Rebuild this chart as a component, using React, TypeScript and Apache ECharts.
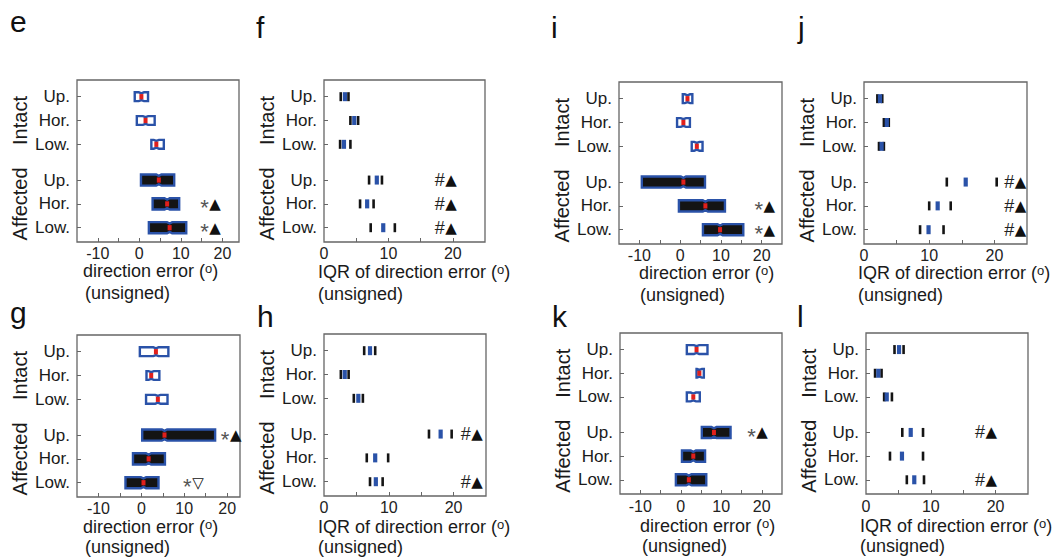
import React, { useEffect, useRef } from 'react';
import * as echarts from 'echarts';

// ---------- shared category / tick data ----------
const rowNames = ['Up.', 'Hor.', 'Low.', 'Up.', 'Hor.', 'Low.'];
const rowPos = [1, 2, 3, 4.5, 5.5, 6.5];
const rowGroup = [0, 0, 0, 1, 1, 1];
const groupNames = ['Intact', 'Affected'];
const groupPos = [2, 5.5];
const dirLabels = [-10, 0, 10, 20];
const dirTicks = [-10, -5, 0, 5, 10, 15, 20];
const iqrLabels = [0, 10, 20];
const iqrTicks = [5, 10, 15, 20];

// ---------- panel e (direction error, boxes) ----------
const eQ1 = [-1.1, -0.6, 2.9, 0.4, 3.2, 2.3];
const eMed = [0.5, 1.5, 4.1, 4.7, 6.7, 7.3];
const eQ3 = [2.1, 3.7, 5.9, 8.4, 9.6, 11.3];
const eAnnRow = [4, 5];
const eAnnX = [16.5, 16.5];
const eAnnText = ['*▲', '*▲'];

// ---------- panel f (IQR) ----------
const fLow = [2.6, 4.1, 2.5, 7.0, 5.6, 7.25];
const fVal = [3.25, 4.7, 3.1, 8.2, 6.7, 9.2];
const fHigh = [3.8, 5.3, 4.1, 9.0, 7.7, 11.0];
const fAnnRow = [3, 4, 5];
const fAnnX = [18.6, 18.6, 18.6];
const fAnnText = ['#▲', '#▲', '#▲'];

// ---------- panel i ----------
const iQ1 = [0.65, -0.75, 2.85, -9.4, -0.3, 5.6];
const iMed = [1.8, 0.8, 4.1, 0.8, 6.2, 9.8];
const iQ3 = [3.0, 2.4, 5.5, 6.1, 11.0, 15.5];
const iAnnRow = [4, 5];
const iAnnX = [20.1, 20.1];
const iAnnText = ['*▲', '*▲'];

// ---------- panel j ----------
const jLow = [2.05, 3.05, 2.3, 12.7, 10.0, 8.6];
const jVal = [2.45, 3.5, 2.7, 15.6, 11.3, 9.9];
const jHigh = [2.8, 3.8, 3.05, 20.35, 13.3, 12.2];
const jAnnRow = [3, 4, 5];
const jAnnX = [22.9, 22.9, 22.9];
const jAnnText = ['#▲', '#▲', '#▲'];

// ---------- panel g ----------
const gQ1 = [-0.35, 1.2, 1.1, 0.2, -1.95, -3.7];
const gMed = [3.4, 2.3, 3.85, 5.4, 1.7, 0.5];
const gQ3 = [6.3, 4.2, 6.1, 17.2, 5.5, 4.0];
const gAnnRow = [3, 5];
const gAnnX = [20.3, 11.5];
const gAnnText = ['*▲', '*▽'];

// ---------- panel h ----------
const hLow = [6.2, 2.6, 4.6, 16.2, 6.6, 7.1];
const hVal = [7.1, 3.2, 5.3, 18.0, 7.9, 8.0];
const hHigh = [7.9, 3.8, 6.0, 19.7, 9.9, 9.05];
const hAnnRow = [3, 5];
const hAnnX = [22.5, 22.5];
const hAnnText = ['#▲', '#▲'];

// ---------- panel k ----------
const kQ1 = [1.5, 3.9, 1.5, 5.2, 0.3, -1.2];
const kMed = [3.9, 4.6, 3.1, 8.2, 3.1, 2.0];
const kQ3 = [6.6, 5.7, 4.7, 12.3, 6.0, 6.3];
const kAnnRow = [3];
const kAnnX = [18.3];
const kAnnText = ['*▲'];

// ---------- panel l ----------
const lLow = [4.4, 1.4, 2.8, 5.6, 3.7, 6.3];
const lVal = [5.1, 1.9, 3.2, 6.9, 5.55, 7.45];
const lHigh = [5.8, 2.4, 4.0, 8.8, 8.8, 8.95];
const lAnnRow = [3, 5];
const lAnnX = [18.2, 18.2];
const lAnnText = ['#▲', '#▲'];

const FONT = 'Liberation Sans, Arial, sans-serif';
const BLUE = '#2a52a8';
const RED = '#e0201c';
const BLACK = '#141414';
const FRAME = '#666';

type Panel = {
  letter: string;
  kind: 'box' | 'iqr';
  grid: { left: number; top: number; width: number; height: number };
  xMin: number;
  xMax: number;
  a: number[];
  b: number[];
  c: number[];
  annRow: number[];
  annX: number[];
  annText: string[];
  labelMargin: number;
  letterPos: [number, number];
  titleY: number;
  titleX: number;
  unsignedY: number;
  unsignedX: number;
};

const panels: Panel[] = [
  { letter: 'e', kind: 'box', grid: { left: 77, top: 80, width: 162, height: 162 }, xMin: -15, xMax: 24,
    a: eQ1, b: eMed, c: eQ3, annRow: eAnnRow, annX: eAnnX, annText: eAnnText, labelMargin: 3,
    letterPos: [10, 21], titleX: 83, titleY: 271, unsignedX: 85, unsignedY: 293 },
  { letter: 'f', kind: 'iqr', grid: { left: 324, top: 80, width: 161, height: 162 }, xMin: 0, xMax: 25,
    a: fLow, b: fVal, c: fHigh, annRow: fAnnRow, annX: fAnnX, annText: fAnnText, labelMargin: 3,
    letterPos: [256, 27], titleX: 318, titleY: 272, unsignedX: 318, unsignedY: 294 },
  { letter: 'i', kind: 'box', grid: { left: 619, top: 82, width: 163, height: 162 }, xMin: -15, xMax: 25,
    a: iQ1, b: iMed, c: iQ3, annRow: iAnnRow, annX: iAnnX, annText: iAnnText, labelMargin: 3,
    letterPos: [551, 27], titleX: 639, titleY: 273, unsignedX: 640, unsignedY: 295 },
  { letter: 'j', kind: 'iqr', grid: { left: 864, top: 82, width: 163, height: 162 }, xMin: 0, xMax: 25,
    a: jLow, b: jVal, c: jHigh, annRow: jAnnRow, annX: jAnnX, annText: jAnnText, labelMargin: 3,
    letterPos: [798, 27], titleX: 858, titleY: 273, unsignedX: 858, unsignedY: 295 },
  { letter: 'g', kind: 'box', grid: { left: 77, top: 335, width: 163, height: 162 }, xMin: -15, xMax: 23,
    a: gQ1, b: gMed, c: gQ3, annRow: gAnnRow, annX: gAnnX, annText: gAnnText, labelMargin: 3,
    letterPos: [10, 312], titleX: 83, titleY: 527, unsignedX: 85, unsignedY: 547 },
  { letter: 'h', kind: 'iqr', grid: { left: 324, top: 334, width: 162, height: 162 }, xMin: 0, xMax: 25,
    a: hLow, b: hVal, c: hHigh, annRow: hAnnRow, annX: hAnnX, annText: hAnnText, labelMargin: 3,
    letterPos: [257, 316], titleX: 318, titleY: 527, unsignedX: 318, unsignedY: 547 },
  { letter: 'k', kind: 'box', grid: { left: 620, top: 333, width: 162, height: 161 }, xMin: -15, xMax: 25,
    a: kQ1, b: kMed, c: kQ3, annRow: kAnnRow, annX: kAnnX, annText: kAnnText, labelMargin: 4,
    letterPos: [552, 316], titleX: 640, titleY: 526, unsignedX: 642, unsignedY: 546 },
  { letter: 'l', kind: 'iqr', grid: { left: 866, top: 333, width: 162, height: 161 }, xMin: 0, xMax: 25,
    a: lLow, b: lVal, c: lHigh, annRow: lAnnRow, annX: lAnnX, annText: lAnnText, labelMargin: 4,
    letterPos: [797, 316], titleX: 860, titleY: 526, unsignedX: 860, unsignedY: 546 },
];

function boxRender(params: any, api: any) {
  const pos = api.value(0);
  const grp = api.value(4);
  const p1 = api.coord([api.value(1), pos]);
  const pm = api.coord([api.value(2), pos]);
  const p3 = api.coord([api.value(3), pos]);
  const y = pm[1];
  const hh = grp === 0 ? 4.4 : 5.6;
  const ind = grp === 0 ? 1 : 1.4;
  const nl = Math.max(p1[0] + 0.5, pm[0] - 2.6);
  const nr = Math.min(p3[0] - 0.5, pm[0] + 2.6);
  const pts = [
    [p1[0], y - hh], [nl, y - hh], [pm[0], y - hh + ind], [nr, y - hh], [p3[0], y - hh],
    [p3[0], y + hh], [nr, y + hh], [pm[0], y + hh - ind], [nl, y + hh], [p1[0], y + hh],
  ];
  return {
    type: 'group',
    children: [
      { type: 'polygon', shape: { points: pts }, style: { fill: grp === 0 ? '#fff' : BLACK, stroke: BLUE, lineWidth: 2.4, lineJoin: 'miter' } },
      { type: 'rect', shape: { x: pm[0] - 2, y: y - 2.6, width: 4, height: 5.2 }, style: { fill: RED } },
    ],
  };
}

function iqrRender(params: any, api: any) {
  const pos = api.value(0);
  const lo = api.coord([api.value(1), pos]);
  const v = api.coord([api.value(2), pos]);
  const hi = api.coord([api.value(3), pos]);
  const y = v[1];
  const h = 9;
  return {
    type: 'group',
    children: [
      { type: 'rect', shape: { x: lo[0] - 1.3, y: y - h / 2, width: 2.6, height: h }, style: { fill: BLACK } },
      { type: 'rect', shape: { x: hi[0] - 1.3, y: y - h / 2, width: 2.6, height: h }, style: { fill: BLACK } },
      { type: 'rect', shape: { x: v[0] - 2.1, y: y - h / 2, width: 4.2, height: h }, style: { fill: BLUE } },
    ],
  };
}

function annRender(texts: string[]) {
  return (params: any, api: any) => {
    const p = api.coord([api.value(0), api.value(1)]);
    const t = texts[params.dataIndex];
    const first = t.charAt(0);
    const second = t.charAt(1);
    const isStar = first === '*';
    return {
      type: 'group',
      children: [
        {
          type: 'text', x: p[0] + 1, y: p[1] + (isStar ? 4 : 0),
          style: {
            text: first, fontSize: isStar ? 22 : 18, lineHeight: isStar ? 12 : 14, fontFamily: FONT,
            fill: isStar ? '#555' : '#222', align: 'right', verticalAlign: 'middle',
          },
        },
        {
          type: 'text', x: p[0] + 1.5, y: p[1],
          style: {
            text: second, fontSize: 15, lineHeight: 14, fontFamily: 'DejaVu Sans, sans-serif',
            fill: '#111', align: 'left', verticalAlign: 'middle',
          },
        },
      ],
    };
  };
}

function buildOption() {
  const grid: any[] = [];
  const xAxis: any[] = [];
  const yAxis: any[] = [];
  const series: any[] = [];
  const graphic: any[] = [];

  panels.forEach((p, i) => {
    grid.push({
      ...p.grid,
      show: true,
      borderColor: FRAME,
      borderWidth: 1.3,
      backgroundColor: 'transparent',
      containLabel: false,
      outerBoundsMode: 'none',
    });
    const isBox = p.kind === 'box';
    xAxis.push({
      type: 'value', gridIndex: i, min: p.xMin, max: p.xMax,
      axisLine: { show: false, onZero: false }, splitLine: { show: false },
      axisTick: { show: true, inside: true, length: 4, customValues: isBox ? dirTicks : iqrTicks, lineStyle: { color: FRAME } },
      axisLabel: { customValues: isBox ? dirLabels : iqrLabels, margin: p.labelMargin, fontSize: 16, lineHeight: 16, color: '#222', fontFamily: FONT },
    });
    yAxis.push({
      type: 'value', gridIndex: i, min: 0.3, max: 7.1, inverse: true, position: 'left', offset: 0,
      axisLine: { show: false, onZero: false }, splitLine: { show: false },
      axisTick: { show: true, inside: true, length: 4, customValues: rowPos, lineStyle: { color: FRAME } },
      axisLabel: {
        customValues: rowPos, margin: 7, fontSize: 17, color: '#1a1a1a', fontFamily: FONT,
        formatter: (v: number) => rowNames[rowPos.indexOf(v)] ?? '',
      },
    });
    yAxis.push({
      type: 'value', gridIndex: i, min: 0.3, max: 7.1, inverse: true, position: 'left', offset: 0,
      axisLine: { show: false, onZero: false }, splitLine: { show: false }, axisTick: { show: false },
      axisLabel: {
        customValues: groupPos, margin: 47, fontSize: 20, color: '#1a1a1a', fontFamily: FONT, rotate: 90,
        formatter: (v: number) => groupNames[groupPos.indexOf(v)] ?? '',
      },
    });

    const data = rowPos.map((pos, r) => [pos, p.a[r], p.b[r], p.c[r], rowGroup[r]]);
    series.push({
      type: 'custom', xAxisIndex: i, yAxisIndex: 2 * i,
      renderItem: isBox ? boxRender : iqrRender,
      encode: { x: [1, 2, 3], y: 0 },
      data, clip: false, silent: true,
    });
    series.push({
      type: 'custom', xAxisIndex: i, yAxisIndex: 2 * i,
      renderItem: annRender(p.annText),
      encode: { x: 0, y: 1 },
      data: p.annRow.map((r, k) => [p.annX[k], rowPos[r]]),
      clip: false, silent: true,
    });

    graphic.push({
      type: 'text', x: p.letterPos[0], y: p.letterPos[1],
      style: { text: p.letter, fontSize: 30, fontFamily: FONT, fill: '#111', align: 'left', verticalAlign: 'middle' },
    });
    const title = isBox ? 'direction error (' : 'IQR of direction error (';
    graphic.push({
      type: 'text', x: p.titleX, y: p.titleY,
      style: {
        text: `{n|${title}}{s|o}{n|)}`, fontFamily: FONT, fill: '#1a1a1a', align: 'left', verticalAlign: 'middle',
        rich: {
          n: { fontSize: 18, fontFamily: FONT, fill: '#1a1a1a', lineHeight: 18, verticalAlign: 'bottom' },
          s: { fontSize: 13, fontFamily: FONT, fill: '#1a1a1a', lineHeight: 13, verticalAlign: 'top' },
        },
      },
    });
    graphic.push({
      type: 'text', x: p.unsignedX, y: p.unsignedY,
      style: { text: '(unsigned)', fontSize: 18, lineHeight: 18, fontFamily: FONT, fill: '#1a1a1a', align: 'left', verticalAlign: 'middle' },
    });
  });

  return { animation: false, backgroundColor: '#fff', grid, xAxis, yAxis, series, graphic };
}

export default function App() {
  const ref = useRef<HTMLDivElement>(null);
  useEffect(() => {
    if (!ref.current) return;
    const chart = echarts.init(ref.current, null, { renderer: 'svg' });
    chart.setOption(buildOption() as any);
    return () => chart.dispose();
  }, []);
  return (
    <div
      ref={ref}
      style={{ position: 'absolute', left: 0, top: 0, width: 1064, height: 560, background: '#fff' }}
    />
  );
}
